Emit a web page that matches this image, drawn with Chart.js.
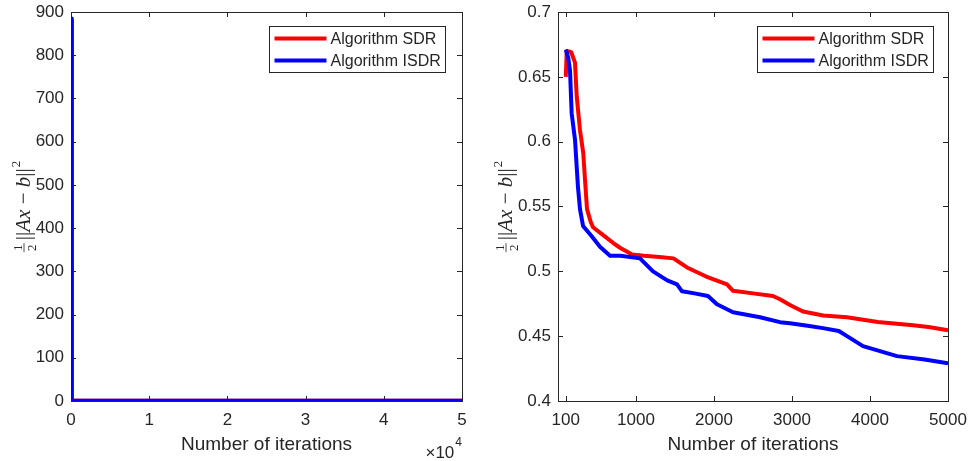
<!DOCTYPE html>
<html>
<head>
<meta charset="utf-8">
<title>SDR vs ISDR</title>
<script src="https://cdn.jsdelivr.net/npm/chart.js@4.4.1/dist/chart.umd.min.js"></script>
<style>
    html, body { margin: 0; padding: 0; background: #fff; }
    .panel { position: absolute; top: 0; height: 461px; }
    #leftPanel { left: 0; width: 480px; }
    #rightPanel { left: 480px; width: 489px; }
</style>
</head>
<body>
<div class="panel" id="leftPanel"><canvas id="leftChart" width="480" height="461"></canvas></div>
<div class="panel" id="rightPanel"><canvas id="rightChart" width="489" height="461"></canvas></div>
<script>
// full run (left panel)
const fullSdrIters = [0, 100, 5000, 50000];
const fullSdrValues = [880, 0.65, 0.455, 0.40];
const fullIsdrIters = [0, 100, 5000, 50000];
const fullIsdrValues = [885, 0.671, 0.429, 0.38];
const fullXTicks = [0, 10000, 20000, 30000, 40000, 50000];
const fullYTicks = [0, 100, 200, 300, 400, 500, 600, 700, 800, 900];

// zoomed run, iterations 100..5000 (right panel)
const sdrIters = [100, 112, 170, 218, 240, 282, 324, 346, 372, 420, 449, 600, 705, 800, 950,
    1100, 1300, 1480, 1654, 1900, 2167, 2244, 2500, 2756, 2846, 2974, 3141, 3400, 3705,
    4100, 4551, 4750, 5000];
const sdrValues = [0.650, 0.670, 0.669, 0.661, 0.635, 0.609, 0.591, 0.571, 0.548, 0.538,
    0.534, 0.527, 0.522, 0.518, 0.513, 0.512, 0.511, 0.510, 0.503, 0.496, 0.490, 0.485,
    0.483, 0.481, 0.4785, 0.474, 0.469, 0.466, 0.4646, 0.461, 0.4585, 0.457, 0.4545];
const isdrIters = [100, 130, 154, 175, 218, 256, 282, 321, 432, 538, 667, 800, 1051, 1218,
    1400, 1526, 1590, 1750, 1923, 2038, 2244, 2590, 2846, 2974, 3200, 3397, 3600, 3705,
    3910, 4346, 4700, 5000];
const isdrValues = [0.671, 0.665, 0.655, 0.622, 0.6015, 0.565, 0.548, 0.535, 0.527, 0.519,
    0.512, 0.512, 0.510, 0.500, 0.493, 0.490, 0.4846, 0.483, 0.481, 0.4746, 0.4685, 0.4646,
    0.4608, 0.460, 0.458, 0.4562, 0.454, 0.450, 0.4423, 0.4346, 0.432, 0.429];
const zoomXTicks = [100, 1000, 2000, 3000, 4000, 5000];
const zoomYTicks = [0.4, 0.45, 0.5, 0.55, 0.6, 0.65, 0.7];

const seriesLabels = ['Algorithm SDR', 'Algorithm ISDR'];
const seriesColors = ['#ff0000', '#0000ff'];

const axisColor = '#262626';
const sansFont = "'Liberation Sans', Arial, sans-serif";
const serifFont = "'Liberation Serif', 'DejaVu Serif', serif";

function toPoints(xs, ys) {
    return xs.map((x, i) => ({ x, y: ys[i] }));
}

function drawNormLabel(ctx, baseX, centerY) {
    // 1/2 ||Ax - b||^2, written bottom-to-top
    ctx.save();
    ctx.translate(baseX, centerY);
    ctx.rotate(-Math.PI / 2);
    ctx.fillStyle = axisColor;
    ctx.strokeStyle = axisColor;
    ctx.textBaseline = 'alphabetic';
    const big = 21, small = 13;
    const pieces = [
        { t: '||', f: `${big}px ${serifFont}` },
        { t: 'Ax', f: `italic ${big}px ${serifFont}` },
        { t: ' \u2212 ', f: `${big}px ${serifFont}` },
        { t: 'b', f: `italic ${big}px ${serifFont}` },
        { t: '||', f: `${big}px ${serifFont}` },
    ];
    const fracW = 9;
    let total = fracW + 3;
    pieces.forEach((p) => { ctx.font = p.f; p.w = ctx.measureText(p.t).width; total += p.w; });
    ctx.font = `${small}px ${serifFont}`;
    const supW = ctx.measureText('2').width;
    total += supW + 1;

    let x = -total / 2;
    ctx.font = `${small}px ${serifFont}`;
    ctx.textAlign = 'center';
    ctx.fillText('1', x + fracW / 2, -8);
    ctx.fillText('2', x + fracW / 2, 6);
    ctx.lineWidth = 0.8;
    ctx.beginPath();
    ctx.moveTo(x, -6);
    ctx.lineTo(x + fracW, -6);
    ctx.stroke();
    x += fracW + 3;
    ctx.textAlign = 'left';
    pieces.forEach((p) => { ctx.font = p.f; ctx.fillText(p.t, x, 0); x += p.w; });
    ctx.font = `${small}px ${serifFont}`;
    ctx.fillText('2', x + 1, -10);
    ctx.restore();
}

const matlabAxes = {
    id: 'matlabAxes',
    beforeDatasetsDraw(chart) {
        const { ctx, chartArea: a, scales } = chart;
        ctx.save();
        ctx.strokeStyle = axisColor;
        ctx.lineWidth = 1;
        ctx.strokeRect(Math.round(a.left) + 0.5, Math.round(a.top) + 0.5,
            Math.round(a.right - a.left), Math.round(a.bottom - a.top));
        const len = 5;
        ctx.beginPath();
        scales.x.ticks.forEach((t) => {
            const px = Math.round(scales.x.getPixelForValue(t.value)) + 0.5;
            ctx.moveTo(px, a.bottom); ctx.lineTo(px, a.bottom - len);
            ctx.moveTo(px, a.top); ctx.lineTo(px, a.top + len);
        });
        scales.y.ticks.forEach((t) => {
            const py = Math.round(scales.y.getPixelForValue(t.value)) + 0.5;
            ctx.moveTo(a.left, py); ctx.lineTo(a.left + len, py);
            ctx.moveTo(a.right, py); ctx.lineTo(a.right - len, py);
        });
        ctx.stroke();
        ctx.restore();
    },
    afterDraw(chart, args, opts) {
        const { ctx, chartArea: a } = chart;
        ctx.save();
        // legend box
        const boxW = 176, boxH = 46;
        const bx = Math.round(a.right - opts.legendRight - boxW) + 0.5;
        const by = Math.round(a.top + 14) + 0.5;
        ctx.fillStyle = '#fff';
        ctx.fillRect(bx, by, boxW, boxH);
        ctx.strokeStyle = axisColor;
        ctx.lineWidth = 1;
        ctx.strokeRect(bx, by, boxW, boxH);
        ctx.font = `16px ${sansFont}`;
        ctx.textBaseline = 'middle';
        seriesLabels.forEach((label, i) => {
            const ly = by + 12 + i * 22;
            ctx.strokeStyle = seriesColors[i];
            ctx.lineWidth = 4;
            ctx.beginPath();
            ctx.moveTo(bx + 5, ly);
            ctx.lineTo(bx + 57, ly);
            ctx.stroke();
            ctx.fillStyle = axisColor;
            ctx.fillText(label, bx + 61, ly + 1);
        });
        // y label
        drawNormLabel(ctx, opts.yLabelX, (a.top + a.bottom) / 2);
        // x exponent
        if (opts.exponent) {
            ctx.fillStyle = axisColor;
            ctx.textBaseline = 'alphabetic';
            ctx.font = `12px ${sansFont}`;
            const w4 = ctx.measureText('4').width;
            ctx.textAlign = 'right';
            ctx.fillText('4', a.right, 446);
            ctx.font = `17px ${sansFont}`;
            ctx.fillText('\u00d710', a.right - w4 - 1, 458);
        }
        ctx.restore();
    },
};

function makeOptions(cfg) {
    const tickFont = { family: sansFont, size: 17 };
    return {
        responsive: false,
        animation: false,
        layout: { padding: { top: 12, right: cfg.padRight, left: 0, bottom: 0 } },
        plugins: {
            legend: { display: false },
            tooltip: { enabled: false },
            matlabAxes: { legendRight: cfg.legendRight, yLabelX: cfg.yLabelX, exponent: cfg.exponent },
        },
        scales: {
            x: {
                type: 'linear',
                min: cfg.xMin,
                max: cfg.xMax,
                grid: { display: false, drawTicks: false },
                border: { display: false },
                afterBuildTicks: (s) => { s.ticks = cfg.xTicks.map((v) => ({ value: v })); },
                afterFit: (s) => { s.height = 60; s.paddingLeft = 0; s.paddingRight = 0; },
                ticks: {
                    color: axisColor,
                    font: tickFont,
                    padding: 9,
                    maxRotation: 0,
                    autoSkip: false,
                    callback: cfg.xFormat,
                },
                title: {
                    display: true,
                    text: 'Number of iterations',
                    color: axisColor,
                    font: { family: sansFont, size: 19 },
                    padding: { top: 0, bottom: 5 },
                },
            },
            y: {
                min: cfg.yMin,
                max: cfg.yMax,
                grid: { display: false, drawTicks: false },
                border: { display: false },
                afterBuildTicks: (s) => { s.ticks = cfg.yTicks.map((v) => ({ value: v })); },
                afterFit: (s) => { s.width = cfg.yWidth; s.paddingTop = 0; s.paddingBottom = 0; },
                ticks: {
                    color: axisColor,
                    font: tickFont,
                    padding: 7,
                    autoSkip: false,
                    callback: (v) => String(+Number(v).toFixed(2)),
                },
            },
        },
    };
}

function lineSet(label, color, pts, order) {
    return {
        label,
        data: pts,
        borderColor: color,
        backgroundColor: color,
        borderWidth: 4,
        pointRadius: 0,
        tension: 0,
        fill: false,
        borderJoinStyle: 'round',
        order,
    };
}

new Chart(document.getElementById('leftChart'), {
    type: 'line',
    data: {
        datasets: [
            lineSet(seriesLabels[0], seriesColors[0], toPoints(fullSdrIters, fullSdrValues), 2),
            lineSet(seriesLabels[1], seriesColors[1], toPoints(fullIsdrIters, fullIsdrValues), 1),
        ],
    },
    options: makeOptions({
        padRight: 18, legendRight: 17, yLabelX: 30, yWidth: 71, exponent: true,
        xMin: 0, xMax: 50000, xTicks: fullXTicks, xFormat: (v) => String(v / 10000),
        yMin: 0, yMax: 900, yTicks: fullYTicks,
    }),
    plugins: [matlabAxes],
});

new Chart(document.getElementById('rightChart'), {
    type: 'line',
    data: {
        datasets: [
            lineSet(seriesLabels[0], seriesColors[0], toPoints(sdrIters, sdrValues), 2),
            lineSet(seriesLabels[1], seriesColors[1], toPoints(isdrIters, isdrValues), 1),
        ],
    },
    options: makeOptions({
        padRight: 21, legendRight: 15, yLabelX: 32, yWidth: 78, exponent: false,
        xMin: 0, xMax: 5000, xTicks: zoomXTicks, xFormat: (v) => String(v),
        yMin: 0.4, yMax: 0.7, yTicks: zoomYTicks,
    }),
    plugins: [matlabAxes],
});
</script>
</body>
</html>
